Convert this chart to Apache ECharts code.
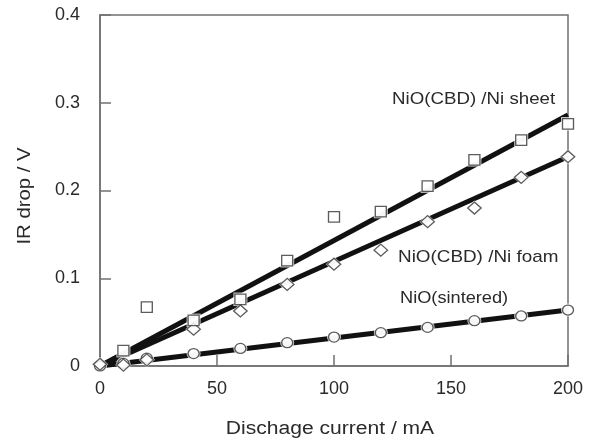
<!DOCTYPE html>
<html>
<head>
<meta charset="utf-8">
<script src="https://cdn.jsdelivr.net/npm/echarts@6/dist/echarts.min.js"></script>
<style>
  html, body { margin: 0; padding: 0; background: #fff; }
  #chart { width: 594px; height: 443px; }
</style>
</head>
<body>
<div id="chart"></div>
<script>
// Discharge current (mA) at which IR drop was measured
const currents = [0, 10, 20, 40, 60, 80, 100, 120, 140, 160, 180, 200];

// Measured IR drop (V) for each electrode
const sheetDrop = [-0.002, 0.0175, 0.067, 0.052, 0.076, 0.12, 0.17, 0.176, 0.205, 0.235, 0.2575, 0.276];
const foamDrop = [0.002, 0.001, 0.007, 0.042, 0.0627, 0.093, 0.116, 0.132, 0.1645, 0.18, 0.215, 0.2385];
const sinteredDrop = [0, 0.003, 0.009, 0.0142, 0.020, 0.0266, 0.033, 0.038, 0.044, 0.0516, 0.057, 0.0638];

// Linear fit end points [current, drop]
const sheetFit = [[0, 0], [200, 0.286]];
const foamFit = [[0, 0], [200, 0.2385]];
const sinteredFit = [[0, 0], [200, 0.0638]];

// Axis tick settings
const xTicks = { min: 0, max: 200, interval: 50 };
const yTicks = { min: 0, max: 0.4, interval: 0.1 };

const pairs = (xs, ys) => xs.map((x, i) => [x, ys[i]]);

const axisColor = '#707070';
const textColor = '#2a2a2a';
const font = '"Liberation Sans", Arial, sans-serif';

const fitLine = (data) => ({
  type: 'line',
  data: data,
  symbol: 'none',
  lineStyle: { color: '#111', width: 5 },
  z: 2,
  silent: true
});

// White halo under each marker so the fit line breaks around it
const halo = (data, symbol, size) => ({
  type: 'scatter',
  data: data,
  symbol: symbol,
  symbolSize: size.map((s) => s + 3),
  itemStyle: { color: '#fff' },
  z: 3,
  silent: true
});

const markers = (data, symbol, size) => ({
  type: 'scatter',
  data: data,
  symbol: symbol,
  symbolSize: size,
  itemStyle: { color: '#fff', borderColor: '#333', borderWidth: 1.3 },
  z: 4
});

const circleSize = [11, 10];
const diamondSize = [13.5, 12];
const squareSize = [11, 10.5];

const sintered = pairs(currents, sinteredDrop);
const foam = pairs(currents, foamDrop);
const sheet = pairs(currents, sheetDrop);

const chart = echarts.init(document.getElementById('chart'), null, { renderer: 'canvas' });

const labelText = (text, x, y, size, sx, extra) => Object.assign({
  type: 'text', x: x, y: y, scaleX: sx,
  style: {
    text: text, fontSize: size, fontFamily: font, fill: textColor,
    textAlign: 'left', textVerticalAlign: 'middle'
  }
}, extra || {});

chart.setOption({
  animation: false,
  backgroundColor: '#fff',
  grid: {
    left: 100, right: 26, top: 15, bottom: 77,
    show: true, borderColor: axisColor, borderWidth: 1.5, backgroundColor: 'transparent'
  },
  xAxis: {
    type: 'value',
    min: xTicks.min, max: xTicks.max, interval: xTicks.interval,
    axisLine: { show: true, lineStyle: { color: axisColor, width: 1.5 } },
    axisTick: { show: true, inside: true, length: 11, lineStyle: { color: axisColor, width: 1.5 } },
    splitLine: { show: false },
    axisLabel: { margin: 14, fontSize: 18, color: textColor, fontFamily: font }
  },
  yAxis: {
    type: 'value',
    min: yTicks.min, max: yTicks.max, interval: yTicks.interval,
    axisLine: { show: true, lineStyle: { color: axisColor, width: 1.5 } },
    axisTick: { show: true, inside: true, length: 11, lineStyle: { color: axisColor, width: 1.5 } },
    splitLine: { show: false },
    axisLabel: {
      margin: 20, fontSize: 18, color: textColor, fontFamily: font,
      formatter: (v) => (v === 0 ? '0' : v.toFixed(1))
    }
  },
  series: [
    fitLine(sheetFit),
    fitLine(foamFit),
    fitLine(sinteredFit),
    halo(sintered, 'circle', circleSize),
    halo(foam, 'diamond', diamondSize),
    halo(sheet, 'rect', squareSize),
    markers(sintered, 'circle', circleSize),
    markers(foam, 'diamond', diamondSize),
    markers(sheet, 'rect', squareSize)
  ],
  graphic: [
    {
      type: 'text', x: 330, y: 429, scaleX: 1.17,
      style: {
        text: 'Dischage current / mA', fontSize: 18, fontFamily: font, fill: textColor,
        textAlign: 'center', textVerticalAlign: 'middle'
      }
    },
    {
      type: 'text', x: 25, y: 196, rotation: Math.PI / 2, scaleX: 1.13,
      style: {
        text: 'IR drop / V', fontSize: 18, fontFamily: font, fill: textColor,
        textAlign: 'center', textVerticalAlign: 'middle'
      }
    },
    labelText('NiO(CBD) /Ni sheet', 392, 99, 17, 1.1),
    labelText('NiO(CBD) /Ni foam', 398, 257, 17, 1.11),
    labelText('NiO(sintered)', 400, 298, 17, 1.07)
  ]
});
</script>
</body>
</html>
